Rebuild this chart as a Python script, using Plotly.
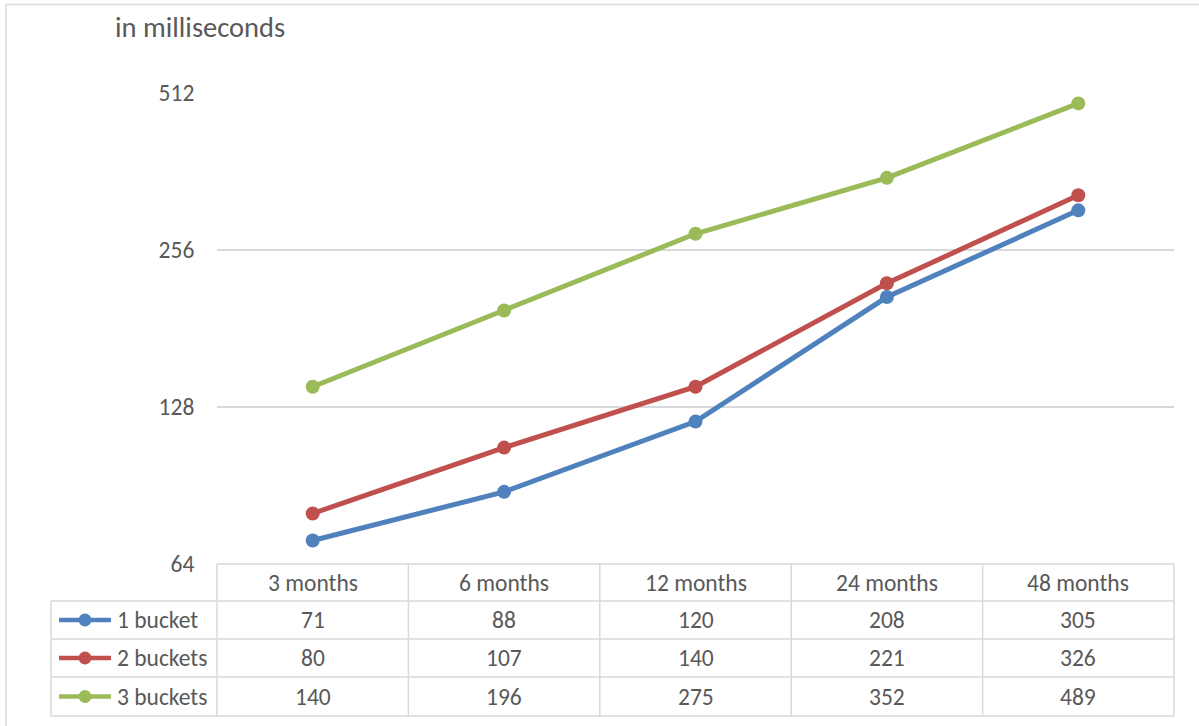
import plotly.graph_objects as go

# Query latency per index configuration and time window
categories = ["3 months", "6 months", "12 months", "24 months", "48 months"]
series_names = ["1 bucket", "2 buckets", "3 buckets"]
one_bucket = [71, 88, 120, 208, 305]
two_buckets = [80, 107, 140, 221, 326]
three_buckets = [140, 196, 275, 352, 489]
y_ticks = [64, 128, 256, 512]
colors = ["#4F81BD", "#C0504D", "#9BBB59"]

series_values = [one_bucket, two_buckets, three_buckets]

W, H = 1199, 726
ML, MR, MT, MB = 217, 25, 93, 162
PW, PH = W - ML - MR, H - MT - MB

FONT = "Carlito, Calibri, Lato, sans-serif"
TXT = "#595959"
GRID = "#D9D9D9"


def px_x(x):
    return (x - ML) / PW


def px_y(y):
    return (H - MB - y) / PH


fig = go.Figure()
xs = list(range(len(categories)))
for name, vals, col in zip(series_names, series_values, colors):
    fig.add_trace(go.Scatter(
        x=xs, y=vals, name=name, mode="lines+markers",
        line=dict(color=col, width=5),
        marker=dict(color=col, size=14),
        cliponaxis=False, showlegend=False,
    ))

shapes = []
annotations = []

# data table grid
col_w = PW / len(categories)
row_tops = [564, 601, 639, 677, 716]
line_style = dict(color=GRID, width=1.5)
table_left = 51
# horizontal lines
for i, yy in enumerate(row_tops):
    x0 = ML if i == 0 else table_left
    shapes.append(dict(type="line", xref="paper", yref="paper",
                       x0=px_x(x0), x1=px_x(W - MR), y0=px_y(yy), y1=px_y(yy),
                       line=line_style))
# vertical lines
for j in range(len(categories) + 1):
    xx = ML + j * col_w
    shapes.append(dict(type="line", xref="paper", yref="paper",
                       x0=px_x(xx), x1=px_x(xx), y0=px_y(row_tops[0]), y1=px_y(row_tops[-1]),
                       line=line_style))
shapes.append(dict(type="line", xref="paper", yref="paper",
                   x0=px_x(table_left), x1=px_x(table_left),
                   y0=px_y(row_tops[1]), y1=px_y(row_tops[-1]), line=line_style))

# outer chart frame (top and left edges)
shapes.append(dict(type="line", xref="paper", yref="paper",
                   x0=px_x(6), x1=px_x(W), y0=px_y(4.5), y1=px_y(4.5),
                   line=dict(color=GRID, width=1.5)))
shapes.append(dict(type="line", xref="paper", yref="paper",
                   x0=px_x(6), x1=px_x(6), y0=px_y(4.5), y1=px_y(H),
                   line=dict(color=GRID, width=1.5)))

cell_font = dict(family=FONT, size=23.5, color=TXT)

# header row
for j, cat in enumerate(categories):
    cx = ML + (j + 0.5) * col_w
    cy = (row_tops[0] + row_tops[1]) / 2
    annotations.append(dict(text=cat, xref="paper", yref="paper",
                            x=px_x(cx), y=px_y(cy), showarrow=False,
                            xanchor="center", yanchor="middle", font=cell_font))

# value rows with legend keys
for i, (name, vals, col) in enumerate(zip(series_names, series_values, colors)):
    cy = (row_tops[i + 1] + row_tops[i + 2]) / 2
    shapes.append(dict(type="line", xref="paper", yref="paper",
                       x0=px_x(59), x1=px_x(111), y0=px_y(cy), y1=px_y(cy),
                       line=dict(color=col, width=4.5)))
    shapes.append(dict(type="circle", xref="paper", yref="paper",
                       x0=px_x(85 - 6.5), x1=px_x(85 + 6.5),
                       y0=px_y(cy + 6.5), y1=px_y(cy - 6.5),
                       fillcolor=col, line=dict(width=0)))
    annotations.append(dict(text=name, xref="paper", yref="paper",
                            x=px_x(115), y=px_y(cy), showarrow=False,
                            xanchor="left", yanchor="middle", font=cell_font))
    for j, v in enumerate(vals):
        cx = ML + (j + 0.5) * col_w
        annotations.append(dict(text=str(v), xref="paper", yref="paper",
                                x=px_x(cx), y=px_y(cy), showarrow=False,
                                xanchor="center", yanchor="middle", font=cell_font))

# axis unit label
annotations.append(dict(text="in milliseconds", xref="paper", yref="paper",
                        x=px_x(113), y=px_y(27), showarrow=False,
                        xanchor="left", yanchor="middle",
                        font=dict(family=FONT, size=28.5, color=TXT)))

fig.update_layout(
    width=W, height=H,
    margin=dict(l=ML, r=MR, t=MT, b=MB, pad=0),
    paper_bgcolor="white", plot_bgcolor="white",
    xaxis=dict(range=[-0.5, len(categories) - 0.5], showgrid=False,
               showticklabels=False, zeroline=False, showline=False),
    yaxis=dict(type="log", range=[6 * 0.30102999566, 9 * 0.30102999566],
               tickvals=y_ticks, ticktext=[str(t) for t in y_ticks],
               showgrid=True, gridcolor=GRID, gridwidth=1.5,
               zeroline=False, showline=False,
               ticks="outside", ticklen=0, ticklabelstandoff=17,
               tickfont=dict(family=FONT, size=23.5, color=TXT)),
    shapes=shapes, annotations=annotations,
    font=dict(family=FONT),
)

fig.write_html("out.html")
